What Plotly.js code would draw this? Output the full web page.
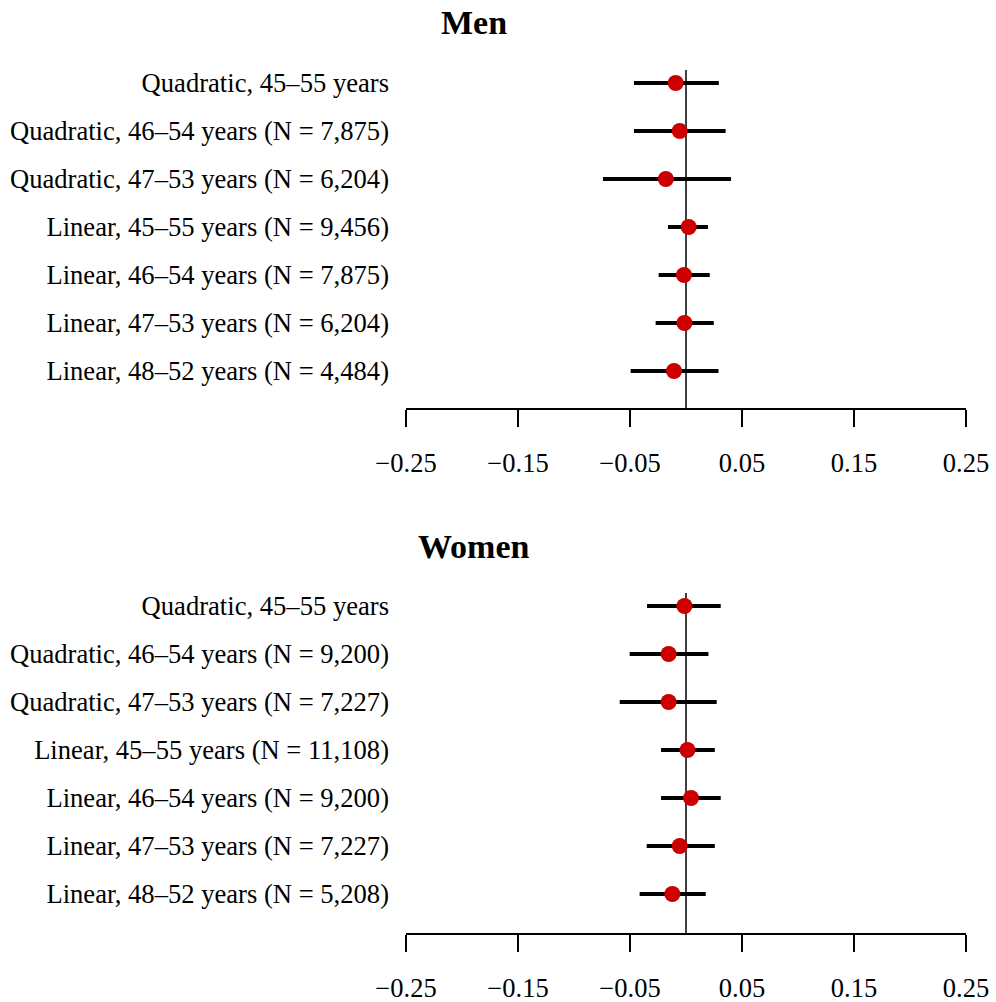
<!DOCTYPE html>
<html>
<head>
<meta charset="utf-8">
<script src="https://cdn.plot.ly/plotly-3.0.1.min.js"></script>
<style>body{margin:0;padding:0;background:#fff;} #chart{width:996px;height:1002px;}</style>
</head>
<body>
<div id="chart"></div>
<script>
// ---- Data ----
const menLabels = [
  "Quadratic, 45\u201355 years",
  "Quadratic, 46\u201354 years (N = 7,875)",
  "Quadratic, 47\u201353 years (N = 6,204)",
  "Linear, 45\u201355 years (N = 9,456)",
  "Linear, 46\u201354 years (N = 7,875)",
  "Linear, 47\u201353 years (N = 6,204)",
  "Linear, 48\u201352 years (N = 4,484)"
];
const menEst = [-0.0092, -0.0056, -0.0180, 0.0024, -0.0018, -0.0014, -0.0107];
const menLo  = [-0.0465, -0.0465, -0.0741, -0.0161, -0.0244, -0.0271, -0.0494];
const menHi  = [ 0.0293,  0.0354,  0.0402,  0.0196,  0.0212,  0.0248,  0.0290];

const womenLabels = [
  "Quadratic, 45\u201355 years",
  "Quadratic, 46\u201354 years (N = 9,200)",
  "Quadratic, 47\u201353 years (N = 7,227)",
  "Linear, 45\u201355 years (N = 11,108)",
  "Linear, 46\u201354 years (N = 9,200)",
  "Linear, 47\u201353 years (N = 7,227)",
  "Linear, 48\u201352 years (N = 5,208)"
];
const womenEst = [-0.0014, -0.0155, -0.0155, 0.0013, 0.0045, -0.0056, -0.0122];
const womenLo  = [-0.0348, -0.0503, -0.0592, -0.0223, -0.0223, -0.0351, -0.0414];
const womenHi  = [ 0.0310,  0.0200,  0.0274,  0.0257,  0.0310,  0.0257,  0.0176];

const xTickVals = [-0.25, -0.15, -0.05, 0.05, 0.15, 0.25];
const xTickText = ["\u22120.25", "\u22120.15", "\u22120.05", "0.05", "0.15", "0.25"];
const panelTitles = ["Men", "Women"];

// ---- Build ----
const serif = "Liberation Serif, Times New Roman, serif";
const red = "#CC0000";

function mkTrace(est, lo, hi, xa, ya) {
  const idx = est.map((_, i) => i);
  return {
    type: "scatter", mode: "markers",
    x: est, y: idx, xaxis: xa, yaxis: ya,
    marker: {color: red, size: 16, line: {width: 0}},
    error_x: {
      type: "data", symmetric: false,
      array: hi.map((h, i) => h - est[i]),
      arrayminus: lo.map((l, i) => est[i] - l),
      color: "#000", thickness: 4, width: 0
    },
    hoverinfo: "x+y", showlegend: false
  };
}

// Zero reference lines as traces (data-driven)
function zeroLine(xa, ya, top, bottom) {
  return {type: "scatter", mode: "lines", x: [0, 0], y: [top, bottom], xaxis: xa, yaxis: ya,
    line: {color: "#000", width: 1.5}, hoverinfo: "skip", showlegend: false};
}

const W = 996, H = 1002;
const xdom = [406 / W, 966 / W];
const menDom = [1 - 408 / H, 1 - 70 / H];
const womenDom = [1 - 933 / H, 1 - 593 / H];
const rowPx = 48;
const menRange = [6 + (408 - 371) / rowPx, -(83 - 70) / rowPx];
const womenRange = [6 + (933 - 894) / rowPx, -(606 - 593) / rowPx];

const data = [
  zeroLine("x", "y", menRange[1], menRange[0]),
  mkTrace(menEst, menLo, menHi, "x", "y"),
  zeroLine("x2", "y2", womenRange[1], womenRange[0]),
  mkTrace(womenEst, womenLo, womenHi, "x2", "y2")
];

function xAxis(anchor) {
  return {
    domain: xdom, anchor: anchor, range: [-0.25, 0.25],
    tickvals: xTickVals, ticktext: xTickText,
    ticks: "outside", ticklen: 17, tickwidth: 1.5, tickcolor: "#000",
    showline: true, linecolor: "#000", linewidth: 1.5,
    showgrid: false, zeroline: false, fixedrange: true,
    tickfont: {family: serif, size: 26.5, color: "#000"},
    ticklabelstandoff: 14
  };
}
function yAxis(anchor, dom, rng, labels) {
  return {
    domain: dom, anchor: anchor, range: rng,
    tickvals: labels.map((_, i) => i), ticktext: labels,
    ticks: "", showline: false, showgrid: false, zeroline: false, fixedrange: true,
    tickfont: {family: serif, size: 26.6, color: "#000"},
    ticklabelstandoff: 16
  };
}

const layout = {
  width: W, height: H,
  margin: {l: 0, r: 0, t: 0, b: 0},
  paper_bgcolor: "#fff", plot_bgcolor: "#fff",
  xaxis: xAxis("y"),
  yaxis: yAxis("x", menDom, menRange, menLabels),
  xaxis2: xAxis("y2"),
  yaxis2: yAxis("x2", womenDom, womenRange, womenLabels),
  annotations: [
    {text: "<b>" + panelTitles[0] + "</b>", xref: "paper", yref: "paper", x: 474 / W, y: 1 - 22 / H,
     xanchor: "center", yanchor: "middle", showarrow: false, font: {family: serif, size: 34, color: "#000"}},
    {text: "<b>" + panelTitles[1] + "</b>", xref: "paper", yref: "paper", x: 474 / W, y: 1 - 546 / H,
     xanchor: "center", yanchor: "middle", showarrow: false, font: {family: serif, size: 34, color: "#000"}}
  ]
};

Plotly.newPlot("chart", data, layout, {displayModeBar: false, staticPlot: true});
</script>
</body>
</html>
